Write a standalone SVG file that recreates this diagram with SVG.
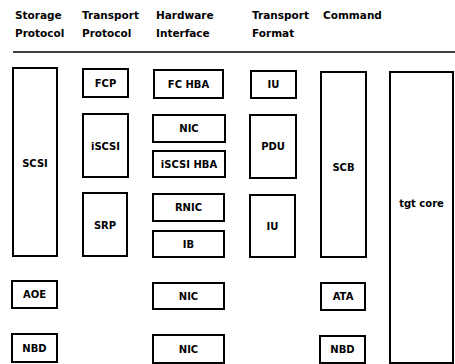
<svg xmlns="http://www.w3.org/2000/svg" width="455" height="364" viewBox="0 0 455 364">
<style>
.b{fill:#fff;stroke:#000;stroke-width:2}
.h{font-family:"DejaVu Sans",sans-serif;font-weight:bold;font-size:10.5px;fill:#000}
.t{font-family:"DejaVu Sans",sans-serif;font-weight:bold;font-size:10px;fill:#000;text-anchor:middle}
</style>
<rect width="455" height="364" fill="#fff"/>
<g id="headers">
<text class="h" x="15" y="19">Storage</text>
<text class="h" x="15" y="37">Protocol</text>
<text class="h" x="82" y="19">Transport</text>
<text class="h" x="82" y="37">Protocol</text>
<text class="h" x="156" y="19">Hardware</text>
<text class="h" x="156" y="37">Interface</text>
<text class="h" x="252" y="19">Transport</text>
<text class="h" x="252" y="37">Format</text>
<text class="h" x="323" y="19">Command</text>
</g>
<g id="connectors">
<line x1="13" y1="52" x2="455" y2="52" stroke="#000" stroke-width="1.6"/>
</g>
<g id="scsi"><rect class="b" x="13" y="68" width="44" height="188"/><text class="t" x="35" y="167">SCSI</text></g>
<g id="fcp"><rect class="b" x="83" y="69" width="45" height="28"/><text class="t" x="105.5" y="86.5">FCP</text></g>
<g id="iscsi"><rect class="b" x="83" y="114" width="45" height="63"/><text class="t" x="105.5" y="150">iSCSI</text></g>
<g id="srp"><rect class="b" x="83" y="193" width="44" height="63"/><text class="t" x="105" y="229">SRP</text></g>
<g id="fchba"><rect class="b" x="154" y="70" width="69" height="28"/><text class="t" x="188.5" y="87.5">FC HBA</text></g>
<g id="nic1"><rect class="b" x="153" y="115" width="72" height="27"/><text class="t" x="189" y="132">NIC</text></g>
<g id="iscsihba"><rect class="b" x="153" y="151" width="72" height="26"/><text class="t" x="189" y="167.5">iSCSI HBA</text></g>
<g id="rnic"><rect class="b" x="153" y="194" width="71" height="27"/><text class="t" x="188.5" y="211">RNIC</text></g>
<g id="ib"><rect class="b" x="153" y="231" width="71" height="26"/><text class="t" x="188.5" y="247.5">IB</text></g>
<g id="iu1"><rect class="b" x="251" y="71" width="45" height="27"/><text class="t" x="273.5" y="88">IU</text></g>
<g id="pdu"><rect class="b" x="250" y="115" width="46" height="63"/><text class="t" x="273" y="150">PDU</text></g>
<g id="iu2"><rect class="b" x="250" y="195" width="45" height="62"/><text class="t" x="272.5" y="230">IU</text></g>
<g id="scb"><rect class="b" x="321" y="72" width="45" height="185"/><text class="t" x="343.5" y="171">SCB</text></g>
<g id="tgtcore"><rect class="b" x="390" y="72" width="63" height="291"/><text class="t" x="421.5" y="207">tgt core</text></g>
<g id="aoe"><rect class="b" x="12" y="281" width="45" height="27"/><text class="t" x="34.5" y="298">AOE</text></g>
<g id="nic2"><rect class="b" x="153" y="283" width="71" height="26"/><text class="t" x="188.5" y="299.5">NIC</text></g>
<g id="ata"><rect class="b" x="321" y="283" width="44" height="27"/><text class="t" x="343" y="300">ATA</text></g>
<g id="nbd1"><rect class="b" x="12" y="334" width="45" height="28"/><text class="t" x="34.5" y="351.5">NBD</text></g>
<g id="nic3"><rect class="b" x="153" y="335" width="71" height="28"/><text class="t" x="188.5" y="352.5">NIC</text></g>
<g id="nbd2"><rect class="b" x="320" y="336" width="45" height="27"/><text class="t" x="342.5" y="353">NBD</text></g>
</svg>
